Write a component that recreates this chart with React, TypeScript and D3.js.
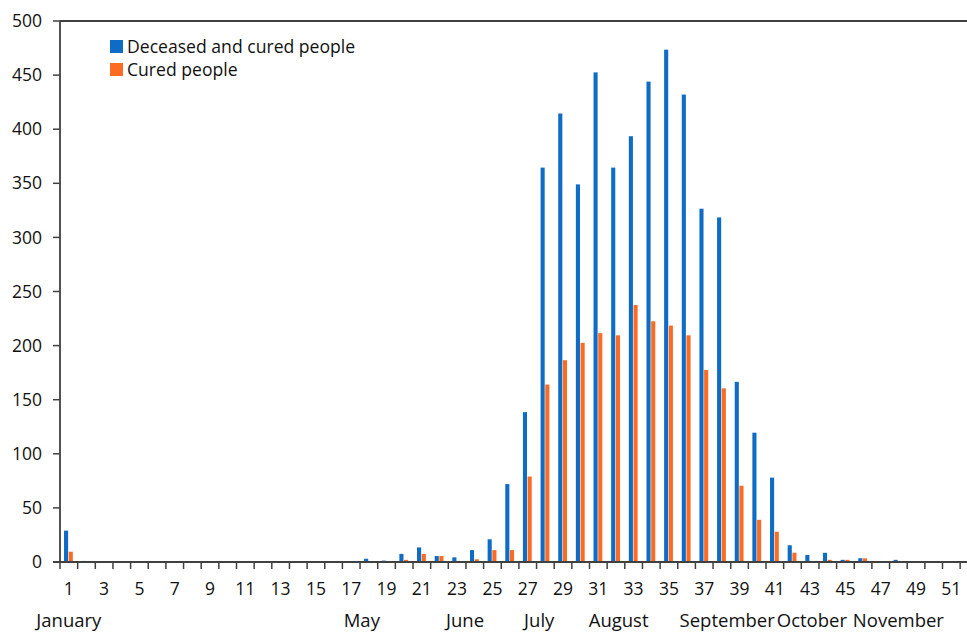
import React from 'react';
import * as d3 from 'd3';

// week numbers on the x axis
const weeks = [
  1, 2, 3, 4, 5, 6, 7, 8, 9, 10, 11, 12, 13, 14, 15, 16, 17, 18, 19, 20, 21, 22, 23, 24, 25, 26,
  27, 28, 29, 30, 31, 32, 33, 34, 35, 36, 37, 38, 39, 40, 41, 42, 43, 44, 45, 46, 47, 48, 49, 50, 51, 52,
];

const deceasedAndCured = [
  29, 1, 0, 0, 0, 0, 0, 0, 0.5, 0, 0, 0, 0, 0, 0, 0, 0, 3, 1.3, 7.5, 13.5, 5.5, 4.3, 11, 21, 72,
  138.5, 364.5, 414.5, 349, 452.5, 364.5, 393.5, 444, 473.5, 432, 326.5, 318.5, 166.5, 119.5, 78, 15.5,
  6.5, 8.5, 2, 3.5, 0.5, 2, 0, 0, 0, 0,
];

const cured = [
  9.5, 0, 0, 0, 0, 0, 0, 0, 0, 0, 0, 0, 0, 0, 0, 0, 0.7, 0, 0.5, 2, 7.4, 5.5, 0, 2.5, 11, 11,
  79, 164, 186.5, 202.5, 211.5, 209.5, 237.5, 222.5, 218.5, 209.5, 177.5, 160.5, 70.5, 39, 28, 8.6,
  0, 2, 2, 3.4, 0, 0, 0, 0, 0, 0,
];

const weekLabels = [1, 3, 5, 7, 9, 11, 13, 15, 17, 19, 21, 23, 25, 27, 29, 31, 33, 35, 37, 39, 41, 43, 45, 47, 49, 51];
const yTicks = [0, 50, 100, 150, 200, 250, 300, 350, 400, 450, 500];

// month names and the (fractional) week under which they sit
const months = ['January', 'May', 'June', 'July', 'August', 'September', 'October', 'November'];
const monthWeeks = [1.0, 17.6, 23.45, 27.65, 32.15, 38.3, 43.1, 48.0];

const seriesNames = ['Deceased and cured people', 'Cured people'];
const colors = ['#0f6cc6', '#fb6b22'];

const W = 967;
const H = 632;
const FONT = '"Open Sans", "Noto Sans", sans-serif';

const App: React.FC = () => {
  const left = 60;
  const top = 21;
  const bottom = 562;
  const step = 17.65;

  const x = d3
    .scaleBand<number>()
    .domain(weeks)
    .range([left, left + step * weeks.length])
    .paddingInner(0)
    .paddingOuter(0);

  const y = d3.scaleLinear().domain([0, 500]).range([bottom, top]);

  // week number -> x of band centre, for month captions
  const weekX = d3
    .scaleLinear()
    .domain([1, 2])
    .range([x(1)! + step / 2, x(2)! + step / 2]);

  const barW = 4.1;
  const gap = 0.6;
  const groupW = barW * 2 + gap;

  const axisColor = '#404040';

  return (
    <svg
      width={W}
      height={H}
      style={{ position: 'absolute', left: 0, top: 0, background: '#fff' }}
      fontFamily={FONT}
    >
      {/* bars */}
      {weeks.map((w, i) => {
        const x0 = x(w)! + (step - groupW) / 2 - 0.4;
        return (
          <g key={w}>
            <rect
              x={x0}
              y={y(deceasedAndCured[i])}
              width={barW}
              height={bottom - y(deceasedAndCured[i])}
              fill={colors[0]}
            />
            <rect
              x={x0 + barW + gap}
              y={y(cured[i])}
              width={barW}
              height={bottom - y(cured[i])}
              fill={colors[1]}
            />
          </g>
        );
      })}

      {/* frame */}
      <line x1={left} x2={W} y1={top} y2={top} stroke={axisColor} strokeWidth={1.8} />
      <line x1={left} x2={left} y1={top} y2={bottom} stroke={axisColor} strokeWidth={1.8} />
      <line x1={left - 7} x2={W} y1={bottom} y2={bottom} stroke={axisColor} strokeWidth={1.8} />

      {/* y ticks */}
      {yTicks.map((t) => (
        <g key={t}>
          <line x1={left - 7} x2={left} y1={y(t)} y2={y(t)} stroke={axisColor} strokeWidth={1.5} />
          <text x={42} y={y(t)} dy="0.35em" textAnchor="end" fontSize={17.5} fill="#111">
            {t}
          </text>
        </g>
      ))}

      {/* x ticks at band boundaries */}
      {weeks.map((w) => (
        <line
          key={w}
          x1={x(w)!}
          x2={x(w)!}
          y1={bottom}
          y2={bottom + 7}
          stroke={axisColor}
          strokeWidth={1.5}
        />
      ))}

      {weekLabels.map((w) => (
        <text key={w} x={x(w)! + step / 2} y={595} textAnchor="middle" fontSize={17.5} fill="#111">
          {w}
        </text>
      ))}

      {months.map((m, i) => (
        <text
          key={m}
          x={weekX(monthWeeks[i])}
          y={m === 'May' ? 627 : 626.5}
          textAnchor="middle"
          fontSize={18.5}
          fill="#111"
        >
          {m}
        </text>
      ))}

      {/* legend */}
      {seriesNames.map((s, i) => (
        <g key={s} transform={`translate(110, ${40 + i * 23})`}>
          <rect x={0} y={0} width={13} height={13} fill={colors[i]} />
          <text x={17} y={6.5} dy="0.35em" fontSize={17.6} fill="#111">
            {s}
          </text>
        </g>
      ))}
    </svg>
  );
};

export default App;
